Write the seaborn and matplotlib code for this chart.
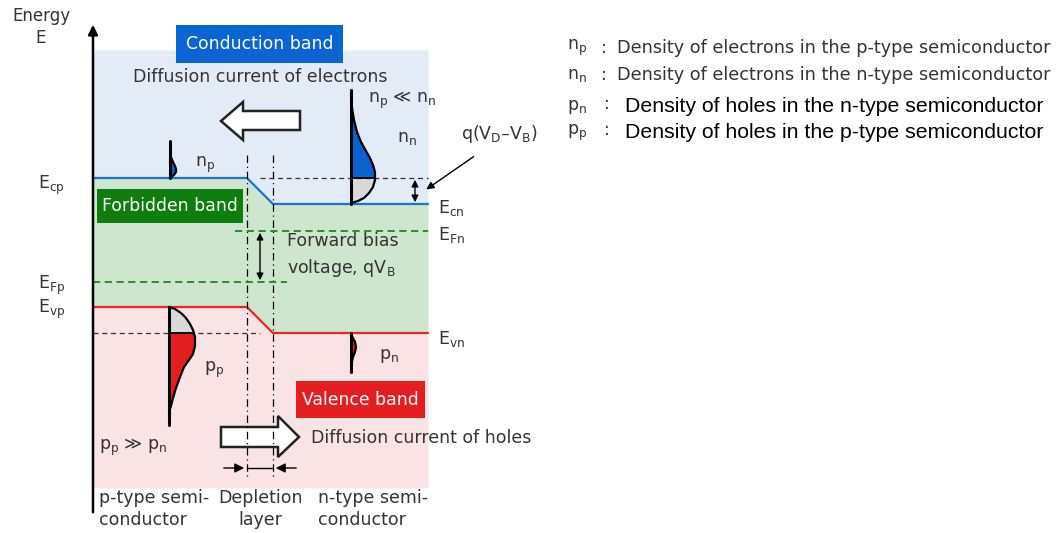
import numpy as np
import pandas as pd
import matplotlib.pyplot as plt
import matplotlib.patches as mpatches
import seaborn as sns

# --- band diagram geometry (pixel coords of the reference picture) ---
x_edges = [93, 247, 273, 428]          # p-side | depletion | n-side
cond_band = [178, 178, 204, 204]       # E_cp -> E_cn
val_band = [307, 307, 333, 333]        # E_vp -> E_vn
top_y, bottom_y = 50, 488
E_Fn, E_Fp = 231, 282

# carrier distributions: (x, y) outline points
nn_x = [351, 352, 354, 357, 361, 366, 370, 373, 375, 375, 373, 369, 364, 358, 351]
nn_y = [95, 108, 120, 132, 142, 151, 158, 165, 172, 180, 187, 193, 198, 201, 203]
np_x = [170, 171, 173, 175, 176, 176, 174, 171]
np_y = [150, 157, 162, 166, 169, 172, 175, 177]
pp_x = [169, 175, 181, 186, 190, 193, 195, 195, 193, 189, 184, 180, 176, 173, 171, 169]
pp_y = [307, 309, 313, 318, 324, 330, 337, 346, 354, 360, 367, 377, 388, 398, 406, 412]
pn_x = [351, 353, 355, 356, 355, 353, 352, 351]
pn_y = [335, 338, 342, 347, 352, 357, 362, 368]

legend_sym = [r"n$_\mathregular{p}$", r"n$_\mathregular{n}$", r"p$_\mathregular{n}$", r"p$_\mathregular{p}$"]
legend_txt = ["Density of electrons in the p-type semiconductor",
              "Density of electrons in the n-type semiconductor",
              "Density of holes in the n-type semiconductor",
              "Density of holes in the p-type semiconductor"]

sns.set_theme(style="white")
plt.rcParams['font.family'] = ['DejaVu Sans']
plt.rcParams['mathtext.default'] = 'regular'

fig = plt.figure(figsize=(10.57, 5.33), dpi=100)
ax = fig.add_axes([0, 0, 1, 1])
ax.set_xlim(0, 1057)
ax.set_ylim(533, 0)
ax.axis('off')

blue_bg, green_bg, pink_bg = '#e3ebf7', '#cde6cd', '#f9e3e4'
blue_line, red_line = '#1e6fd8', '#e8262a'
blue_fill, red_fill, grey_fill = '#0a62d0', '#e41e20', '#d9d9d9'

# background regions
ax.fill_between(x_edges, top_y, cond_band, color=blue_bg, lw=0)
ax.fill_between(x_edges, cond_band, val_band, color=green_bg, lw=0)
ax.fill_between(x_edges, val_band, bottom_y, color=pink_bg, lw=0)

# band edges
bands = pd.DataFrame({'x': x_edges * 2, 'y': cond_band + val_band,
                      'band': ['c'] * 4 + ['v'] * 4})
sns.lineplot(data=bands, x='x', y='y', hue='band', palette={'c': blue_line, 'v': red_line},
             lw=1.6, legend=False, ax=ax, sort=False, estimator=None)

# energy axis
ax.annotate('', xy=(93, 22), xytext=(93, 515),
            arrowprops=dict(arrowstyle='-|>', color='black', lw=1.8, mutation_scale=14))
ax.text(41, 16, 'Energy', fontsize=12, ha='center', va='center', color='#333333')
ax.text(41, 38, 'E', fontsize=12, ha='center', va='center', color='#333333')

# depletion layer boundaries
for xv in x_edges[1:3]:
    ax.plot([xv, xv], [155, 478], color='black', lw=0.9, ls=(0, (6, 3, 1, 3)))

# reference dashed lines
ax.plot([260, 428], [cond_band[0]] * 2, color='#333333', lw=0.9, ls=(0, (4, 3)))
ax.plot([93, 260], [val_band[-1]] * 2, color='#333333', lw=0.9, ls=(0, (4, 3)))
ax.plot([235, 428], [E_Fn] * 2, color='#1a8a1a', lw=1.3, ls=(0, (4, 2.5)))
ax.plot([93, 287], [E_Fp] * 2, color='#1a8a1a', lw=1.3, ls=(0, (4, 2.5)))


def dist(xs, ys, x0, y_split, top_col, bot_col, y_top, y_bot):
    pts = list(zip(xs, ys)) + [(x0, ys[-1]), (x0, ys[0])]
    for col, (ya, yb) in [(top_col, (0, y_split)), (bot_col, (y_split, 533))]:
        poly = mpatches.Polygon(pts, closed=True, fc=col, lw=0)
        ax.add_patch(poly)
        clip = mpatches.Rectangle((0, ya), 1057, yb - ya, transform=ax.transData)
        poly.set_clip_path(clip)
    ax.plot(xs, ys, color='black', lw=1.6, solid_joinstyle='round')
    ax.plot([x0, x0], [y_top, y_bot], color='black', lw=2.2)
    if ys[0] < y_split < ys[-1]:
        xi = np.interp(y_split, ys, xs)
        ax.plot([x0, xi], [y_split, y_split], color='black', lw=1.3)


dist(nn_x, nn_y, 351, cond_band[0], blue_fill, grey_fill, 90, 204)
dist(np_x, np_y, 170, 999, blue_fill, blue_fill, 141, 178)
dist(pp_x, pp_y, 169, val_band[-1], grey_fill, red_fill, 307, 425)
dist(pn_x, pn_y, 351, 999, red_fill, red_fill, 333, 372)

# labelled boxes
box_fs = 12.4
ax.add_patch(mpatches.Rectangle((176, 25), 167, 38, color='#0a64d2', lw=0))
ax.text(259.5, 44, 'Conduction band', color='white', fontsize=box_fs, ha='center', va='center')
ax.add_patch(mpatches.Rectangle((97, 189), 146, 34, color='#0d7d0d', lw=0))
ax.text(170, 206, 'Forbidden band', color='white', fontsize=box_fs, ha='center', va='center')
ax.add_patch(mpatches.Rectangle((296, 381), 129, 37, color='#e41e20', lw=0))
ax.text(360.5, 400, 'Valence band', color='white', fontsize=box_fs, ha='center', va='center')

# block arrows (diffusion currents)
left_arrow = mpatches.Polygon([(300, 111), (243, 111), (243, 102), (221, 121),
                               (243, 140), (243, 130), (300, 130)],
                              closed=True, fc='white', ec='#222222', lw=1.8)
right_arrow = mpatches.Polygon([(221, 427), (278, 427), (278, 416), (299, 437),
                                (278, 457), (278, 447), (221, 447)],
                               closed=True, fc='white', ec='#222222', lw=1.8)
ax.add_patch(left_arrow)
ax.add_patch(right_arrow)

txt = dict(fontsize=12.5, color='#333333', va='center')
ax.text(260, 77, 'Diffusion current of electrons', ha='center', **txt)
ax.text(311, 438, 'Diffusion current of holes', ha='left', **txt)

# double arrows
ax.annotate('', xy=(415, 177), xytext=(415, 205),
            arrowprops=dict(arrowstyle='<|-|>', color='black', lw=1.0, mutation_scale=10))
ax.annotate('', xy=(260, 230), xytext=(260, 283),
            arrowprops=dict(arrowstyle='<|-|>', color='black', lw=1.0, mutation_scale=10))
ax.annotate('', xy=(424, 191), xytext=(476, 155),
            arrowprops=dict(arrowstyle='-|>', color='black', lw=1.0, mutation_scale=11))

# depletion width arrows
ax.annotate('', xy=(247, 468), xytext=(221, 468),
            arrowprops=dict(arrowstyle='-|>', color='black', lw=1.0, mutation_scale=14))
ax.annotate('', xy=(273, 468), xytext=(299, 468),
            arrowprops=dict(arrowstyle='-|>', color='black', lw=1.0, mutation_scale=14))
ax.plot([247, 273], [468, 468], color='black', lw=1.0)

# level labels
ax.text(38, 185, r'E$_\mathregular{cp}$', ha='left', **txt)
ax.text(38, 285, r'E$_\mathregular{Fp}$', ha='left', **txt)
ax.text(38, 309, r'E$_\mathregular{vp}$', ha='left', **txt)
ax.text(438, 208, r'E$_\mathregular{cn}$', ha='left', **txt)
ax.text(438, 235, r'E$_\mathregular{Fn}$', ha='left', **txt)
ax.text(438, 339, r'E$_\mathregular{vn}$', ha='left', **txt)

# carrier labels
ax.text(195, 165, r'n$_\mathregular{p}$', ha='left', **txt)
ax.text(368, 100, r'n$_\mathregular{p}$ ≪ n$_\mathregular{n}$', ha='left', **txt)
ax.text(397, 138, r'n$_\mathregular{n}$', ha='left', **txt)
ax.text(204, 370, r'p$_\mathregular{p}$', ha='left', **txt)
ax.text(379, 356, r'p$_\mathregular{n}$', ha='left', **txt)
ax.text(99, 447, r'p$_\mathregular{p}$ ≫ p$_\mathregular{n}$', ha='left', **txt)
ax.text(461, 134, r'q(V$_\mathregular{D}$–V$_\mathregular{B}$)', ha='left', **txt)
ax.text(287, 241, 'Forward bias', ha='left', **txt)
ax.text(287, 268, r'voltage, qV$_\mathregular{B}$', ha='left', **txt)

# region labels under the axis
ax.text(99, 498, 'p-type semi-', ha='left', **txt)
ax.text(99, 520, 'conductor', ha='left', **txt)
ax.text(260, 498, 'Depletion', ha='center', **txt)
ax.text(260, 520, 'layer', ha='center', **txt)
ax.text(318, 498, 'n-type semi-', ha='left', **txt)
ax.text(318, 520, 'conductor', ha='left', **txt)

# legend on the right
leg_y = [48, 75, 107, 133]
for i, (s, t, yy) in enumerate(zip(legend_sym, legend_txt, leg_y)):
    ax.text(567, yy, s, ha='left', **txt)
    if i < 2:
        ax.text(601, yy, ':', ha='left', **txt)
        ax.text(617, yy, t, ha='left', fontsize=12.7, color='#333333', va='center')
    else:
        ax.text(604, yy - 3, ':', ha='left', **txt)
        ax.text(625, yy, t, ha='left', va='center', fontsize=15.3, color='black',
                family=['Liberation Sans'])

fig.savefig('out.png', dpi=100)
